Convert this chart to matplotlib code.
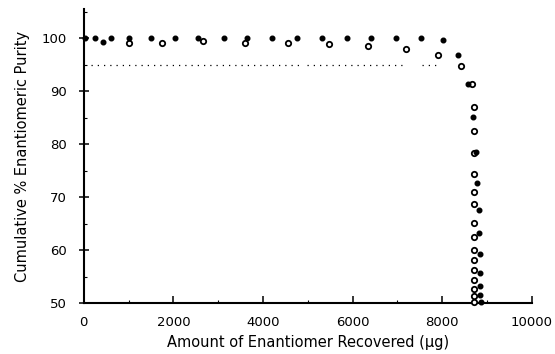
import matplotlib.pyplot as plt
from matplotlib.ticker import MultipleLocator

# filled symbols
filled_x = [20, 250, 430, 600, 1010, 1500, 2040, 2560, 3120, 3650, 4210, 4760,
            5320, 5880, 6420, 6970, 7530, 8020, 8360, 8580, 8690, 8750, 8785,
            8820, 8830, 8840, 8850, 8850, 8850, 8860]
filled_y = [100, 100, 99.3, 100, 100, 100, 100, 100, 100, 100, 100, 100,
            100, 100, 100, 100, 100, 99.7, 96.8, 91.4, 85.2, 78.5, 72.6,
            67.5, 63.2, 59.2, 55.7, 53.2, 51.5, 50.2]

# open symbols
open_x = [1010, 1740, 2670, 3590, 4550, 5470, 6350, 7190, 7900, 8420, 8665,
          8710, 8710, 8710, 8710, 8710, 8710, 8710, 8710, 8710, 8710, 8710,
          8710, 8710, 8710, 8710]
open_y = [99.2, 99.2, 99.4, 99.2, 99.2, 98.9, 98.6, 98.0, 96.9, 94.8, 91.4,
          87.1, 82.4, 78.3, 74.3, 71.0, 68.7, 65.1, 62.5, 60.1, 58.2, 56.2,
          54.3, 52.7, 51.3, 50.2]

# dotted 95 % reference line, drawn in pieces
ref_level = 95
ref_segments = [(150, 4830), (4980, 7220), (7550, 7960)]

fig = plt.figure(figsize=(5.55, 3.54), dpi=100)
ax = fig.add_axes([0.151, 0.144, 0.807, 0.83])

for x0, x1 in ref_segments:
    ax.plot([x0, x1], [ref_level, ref_level], color='black', lw=0.9,
            linestyle=(0, (1, 4)))

ax.scatter(open_x, open_y, s=15, facecolors='white', edgecolors='black',
           linewidths=1.3, zorder=3, clip_on=False)
ax.scatter(filled_x, filled_y, s=11, color='black', zorder=4, clip_on=False)

ax.set_xlim(0, 10000)
ax.set_ylim(50, 105.5)
ax.set_xticks(range(0, 10001, 2000))
ax.set_yticks(range(50, 101, 10))
ax.yaxis.set_minor_locator(MultipleLocator(5))
ax.xaxis.set_minor_locator(MultipleLocator(1000))

ax.spines['top'].set_visible(False)
ax.spines['right'].set_visible(False)
ax.spines['left'].set_linewidth(1.5)
ax.spines['bottom'].set_linewidth(1.5)

ax.tick_params(axis='x', direction='in', length=5, width=1.1, labelsize=9.5, pad=9)
ax.tick_params(axis='y', direction='inout', length=7, width=1.1, labelsize=9.5, pad=9)
ax.tick_params(which='minor', direction='in', length=2.5, width=0.8)

ax.set_xlabel('Amount of Enantiomer Recovered (\u00b5g)', fontsize=10.5, labelpad=5)
ax.set_ylabel('Cumulative % Enantiomeric Purity', fontsize=10.5, labelpad=8)

fig.savefig('out.png', dpi=100)
